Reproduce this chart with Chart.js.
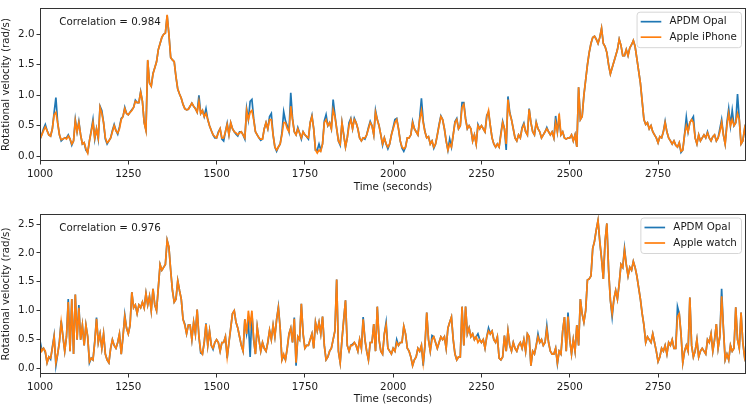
<!DOCTYPE html>
<html>
<head>
<meta charset="utf-8">
<title>Rotational velocity comparison</title>
<script src="https://cdn.jsdelivr.net/npm/chart.js@4.4.0/dist/chart.umd.min.js"></script>
<style>
  html, body { margin: 0; padding: 0; background: #fff; }
  canvas { display: block; }
</style>
</head>
<body>
<canvas id="topChart" width="747" height="203"></canvas>
<canvas id="bottomChart" width="747" height="203"></canvas>
<script>
// sample grid (seconds)
const sampleStart = 1000;
const sampleStep = 5;

// axis ticks
const xTicks = [1000, 1250, 1500, 1750, 2000, 2250, 2500, 2750];
const yTicksTop = [0, 0.5, 1, 1.5, 2];
const yTicksBottom = [0, 0.5, 1, 1.5, 2, 2.5];

// top panel: APDM Opal vs Apple iPhone (rad/s), one value per 5 s
const opalTop = [
  0.28,0.35,0.45,0.52,0.42,0.35,0.33,0.45,0.72,0.96,0.55,0.35,0.25,0.28,0.30,0.30,0.35,0.28,0.18,0.25,
  0.60,0.40,0.57,0.35,0.20,0.22,0.10,0.06,0.25,0.42,0.60,0.28,0.45,0.28,0.82,0.75,0.55,0.28,0.20,0.25,
  0.30,0.42,0.52,0.42,0.36,0.48,0.62,0.65,0.80,0.70,0.68,0.72,0.76,0.80,0.92,0.88,0.88,1.06,0.90,0.55,
  0.43,1.57,1.20,1.15,1.36,1.45,1.55,1.75,1.85,1.95,2.00,2.02,2.31,2.00,1.62,1.58,1.55,1.30,1.10,1.02,
  0.95,0.85,0.78,0.76,0.77,0.82,0.87,0.82,0.78,0.72,1.00,0.70,0.75,0.65,0.78,0.60,0.50,0.42,0.35,0.30,
  0.30,0.40,0.45,0.28,0.25,0.40,0.54,0.35,0.55,0.45,0.40,0.36,0.33,0.40,0.40,0.35,0.28,0.78,0.60,0.90,
  0.93,0.62,0.40,0.35,0.30,0.26,0.28,0.45,0.55,0.45,0.65,0.70,0.35,0.15,0.08,0.15,0.20,0.38,0.73,0.58,
  0.50,0.40,1.04,0.62,0.40,0.35,0.47,0.38,0.28,0.40,0.35,0.32,0.28,0.55,0.67,0.45,0.10,0.10,0.20,0.10,
  0.20,0.58,0.68,0.50,0.55,0.45,0.93,0.68,0.45,0.25,0.18,0.55,0.35,0.15,0.30,0.55,0.62,0.45,0.62,0.55,
  0.45,0.30,0.25,0.30,0.28,0.35,0.47,0.57,0.50,0.35,0.75,0.60,0.50,0.35,0.18,0.30,0.20,0.12,0.20,0.35,
  0.47,0.60,0.62,0.45,0.25,0.13,0.08,0.15,0.30,0.30,0.35,0.57,0.45,0.40,0.35,0.62,0.95,0.58,0.40,0.30,
  0.32,0.20,0.25,0.13,0.20,0.35,0.52,0.66,0.60,0.45,0.25,0.10,0.28,0.15,0.35,0.57,0.62,0.45,0.50,0.88,
  0.88,0.62,0.45,0.50,0.45,0.25,0.35,0.20,0.52,0.45,0.50,0.45,0.40,0.67,0.72,0.50,0.30,0.20,0.15,0.20,
  0.15,0.38,0.57,0.45,0.10,0.98,0.72,0.60,0.45,0.30,0.25,0.35,0.30,0.47,0.54,0.40,0.35,0.78,0.55,0.40,
  0.35,0.56,0.45,0.40,0.30,0.35,0.40,0.47,0.40,0.35,0.40,0.30,0.66,0.40,0.62,0.35,0.40,0.30,0.28,0.30,
  0.30,0.35,0.25,0.35,0.15,1.13,0.60,0.65,1.00,1.25,1.50,1.70,1.85,1.95,1.97,1.92,1.85,1.95,2.10,1.85,
  1.80,1.70,1.50,1.35,1.45,1.55,1.65,1.75,1.92,1.82,1.65,1.65,1.75,1.65,1.78,1.83,1.90,1.80,1.60,1.40,
  1.20,0.90,0.60,0.52,0.55,0.45,0.50,0.40,0.35,0.30,0.22,0.32,0.30,0.40,0.57,0.40,0.30,0.25,0.20,0.25,
  0.18,0.15,0.22,0.06,0.10,0.35,0.64,0.40,0.55,0.60,0.65,0.30,0.20,0.35,0.25,0.30,0.35,0.30,0.40,0.30,
  0.25,0.32,0.35,0.25,0.30,0.45,0.60,0.35,0.20,0.55,0.78,0.50,0.75,0.50,0.55,1.02,0.60,0.20,0.25,0.45,0.30
];
const iphone = [
  0.28,0.35,0.42,0.48,0.42,0.35,0.33,0.45,0.68,0.72,0.55,0.35,0.27,0.28,0.30,0.28,0.33,0.28,0.20,0.25,
  0.58,0.40,0.55,0.35,0.20,0.22,0.12,0.05,0.25,0.40,0.55,0.30,0.45,0.30,0.80,0.70,0.55,0.30,0.22,0.25,
  0.30,0.40,0.50,0.42,0.38,0.45,0.60,0.65,0.78,0.70,0.68,0.72,0.75,0.80,0.90,0.88,0.88,1.05,0.90,0.55,
  0.42,1.58,1.20,1.15,1.35,1.45,1.55,1.75,1.85,1.95,2.00,2.02,2.32,2.00,1.62,1.58,1.55,1.30,1.10,1.02,
  0.95,0.85,0.78,0.76,0.77,0.82,0.87,0.82,0.78,0.72,0.90,0.70,0.75,0.65,0.70,0.60,0.50,0.42,0.35,0.32,
  0.30,0.38,0.45,0.30,0.30,0.40,0.52,0.35,0.55,0.45,0.40,0.38,0.35,0.38,0.40,0.35,0.30,0.75,0.60,0.72,
  0.75,0.60,0.40,0.35,0.30,0.28,0.28,0.45,0.55,0.45,0.60,0.60,0.35,0.15,0.10,0.15,0.20,0.35,0.55,0.55,
  0.45,0.40,0.82,0.60,0.40,0.35,0.45,0.38,0.30,0.40,0.35,0.32,0.30,0.55,0.65,0.45,0.10,0.05,0.10,0.08,
  0.20,0.55,0.60,0.50,0.55,0.45,0.76,0.65,0.45,0.25,0.20,0.55,0.35,0.15,0.30,0.50,0.60,0.45,0.60,0.55,
  0.45,0.30,0.25,0.30,0.30,0.35,0.45,0.55,0.50,0.35,0.72,0.60,0.50,0.35,0.20,0.30,0.20,0.15,0.20,0.35,
  0.45,0.55,0.60,0.45,0.25,0.15,0.12,0.15,0.30,0.30,0.35,0.55,0.45,0.40,0.35,0.60,0.75,0.55,0.40,0.30,
  0.32,0.20,0.25,0.15,0.20,0.35,0.50,0.65,0.60,0.45,0.25,0.10,0.20,0.15,0.35,0.55,0.60,0.45,0.50,0.80,
  0.85,0.60,0.45,0.50,0.45,0.25,0.35,0.20,0.50,0.45,0.50,0.45,0.40,0.65,0.75,0.50,0.30,0.20,0.15,0.20,
  0.15,0.35,0.55,0.45,0.20,0.93,0.70,0.60,0.45,0.30,0.25,0.35,0.30,0.45,0.52,0.40,0.35,0.77,0.55,0.40,
  0.35,0.55,0.45,0.40,0.30,0.35,0.40,0.45,0.40,0.35,0.40,0.30,0.55,0.40,0.70,0.35,0.40,0.30,0.28,0.30,
  0.30,0.35,0.25,0.35,0.15,1.13,0.60,0.65,1.00,1.25,1.50,1.70,1.85,1.95,1.97,1.92,1.85,1.95,2.10,1.85,
  1.80,1.70,1.50,1.35,1.45,1.55,1.65,1.75,1.92,1.82,1.65,1.65,1.75,1.65,1.78,1.83,1.90,1.80,1.60,1.40,
  1.20,0.90,0.60,0.52,0.55,0.45,0.50,0.40,0.35,0.30,0.22,0.32,0.30,0.40,0.55,0.40,0.30,0.25,0.20,0.25,
  0.18,0.15,0.22,0.08,0.10,0.35,0.50,0.40,0.55,0.60,0.55,0.30,0.20,0.35,0.25,0.30,0.35,0.30,0.38,0.30,
  0.25,0.32,0.35,0.25,0.30,0.40,0.55,0.35,0.20,0.50,0.70,0.50,0.60,0.50,0.55,0.70,0.60,0.20,0.25,0.45,0.30
];

// bottom panel: APDM Opal vs Apple watch (rad/s), one value per 5 s
const opalBottom = [
  0.48,0.32,0.35,0.28,0.10,0.20,0.16,0.37,0.57,0.05,0.25,0.47,0.83,0.55,0.30,0.55,1.20,0.30,1.20,0.25,
  1.28,0.50,1.10,0.50,0.75,0.40,0.75,0.55,0.10,0.18,0.15,0.47,0.88,0.45,0.60,0.35,0.60,0.25,0.15,0.10,
  0.35,0.50,0.40,0.35,0.45,0.60,0.25,0.55,0.93,0.70,0.60,0.75,1.32,1.05,1.10,0.95,1.10,1.05,1.15,1.05,
  1.30,1.10,1.25,1.00,1.38,1.10,1.00,1.40,1.80,1.70,1.75,1.80,2.22,2.10,1.70,1.35,1.15,1.20,1.52,1.35,
  1.20,0.85,0.77,0.60,0.75,0.75,0.50,0.80,0.60,1.02,0.55,0.27,0.25,0.45,0.78,0.40,0.65,0.40,0.33,0.45,
  0.50,0.45,0.30,0.45,0.45,0.55,0.18,0.45,0.70,0.95,1.00,0.80,0.70,0.55,0.40,0.30,0.85,0.60,0.80,0.20,
  0.95,0.50,0.25,0.72,0.50,0.30,0.45,0.35,0.30,0.45,0.66,0.50,0.75,0.55,0.85,1.07,0.70,0.15,0.22,0.15,
  0.35,0.60,0.70,0.45,0.88,0.05,0.55,0.50,1.12,0.60,0.35,0.40,0.40,0.50,0.60,0.35,0.80,0.65,0.80,0.60,
  0.90,0.40,0.15,0.20,0.30,0.35,0.50,0.65,1.54,0.30,0.10,0.50,0.85,1.18,0.40,0.30,0.40,0.42,0.45,0.40,
  0.30,0.50,0.35,0.89,0.50,0.30,0.15,0.45,0.45,0.77,0.30,1.07,0.50,0.30,0.25,0.60,0.80,0.35,0.30,0.25,
  0.35,0.30,0.50,0.40,0.45,0.45,0.73,0.60,0.35,0.30,0.20,0.05,0.15,0.20,0.35,0.30,0.40,0.05,0.40,0.97,
  0.50,0.30,0.57,0.55,0.45,0.35,0.45,0.55,0.50,0.55,0.35,0.70,0.80,0.89,0.50,0.25,0.15,0.20,0.20,1.07,
  0.40,1.07,0.60,0.70,0.55,0.60,0.50,0.55,0.60,0.50,0.45,0.50,0.35,0.55,0.70,0.60,0.65,0.50,0.45,0.55,
  0.18,0.15,0.20,0.57,0.30,0.65,0.40,0.30,0.45,0.35,0.30,0.40,0.45,0.35,0.50,0.30,0.60,0.55,0.05,0.30,
  0.25,0.40,0.60,0.45,0.50,0.40,0.45,0.74,0.45,0.30,0.25,0.25,0.35,0.08,0.30,0.25,0.65,0.89,0.30,0.97,
  0.50,0.25,0.50,0.30,0.75,0.40,1.20,0.95,0.80,1.00,1.53,1.55,1.60,2.08,2.20,2.40,2.56,2.20,1.90,1.55,
  2.20,2.51,1.70,1.18,0.89,1.20,1.35,1.20,1.47,1.80,1.75,2.08,1.80,1.60,1.75,1.70,1.85,1.75,1.60,1.40,
  1.20,0.95,0.75,0.45,0.55,0.50,0.45,0.60,0.45,0.30,0.12,0.20,0.35,0.30,0.40,0.25,0.45,0.40,0.50,0.35,
  0.35,1.07,0.95,0.60,0.10,0.30,0.40,0.30,1.23,0.40,0.20,0.30,0.50,0.20,0.30,0.35,0.30,0.25,0.50,0.45,
  0.60,0.30,0.50,0.77,0.35,0.55,1.38,0.70,0.15,0.25,0.15,0.40,0.30,0.35,1.06,0.50,0.35,0.97,0.45,0.20,0.35
];
const watch = [
  0.40,0.30,0.35,0.30,0.10,0.20,0.18,0.35,0.55,0.10,0.25,0.45,0.80,0.55,0.30,0.55,1.15,0.30,1.20,0.25,
  1.28,0.50,1.05,0.50,0.75,0.40,0.75,0.55,0.12,0.18,0.15,0.45,0.86,0.45,0.60,0.35,0.60,0.25,0.15,0.10,
  0.35,0.50,0.40,0.35,0.45,0.60,0.25,0.55,0.90,0.70,0.60,0.75,1.32,1.05,1.10,0.95,1.10,1.05,1.15,1.05,
  1.30,1.10,1.25,1.00,1.38,1.10,1.00,1.40,1.80,1.70,1.75,1.80,2.22,2.10,1.70,1.35,1.15,1.20,1.52,1.35,
  1.20,0.85,0.75,0.60,0.75,0.75,0.50,0.80,0.60,1.02,0.55,0.30,0.25,0.45,0.77,0.40,0.65,0.40,0.35,0.45,
  0.50,0.45,0.30,0.45,0.45,0.55,0.20,0.45,0.70,0.95,1.00,0.80,0.70,0.55,0.40,0.30,0.85,0.60,1.00,0.75,
  1.00,0.50,0.25,0.72,0.50,0.30,0.45,0.35,0.30,0.45,0.66,0.50,0.75,0.55,0.85,1.05,0.70,0.15,0.25,0.15,
  0.35,0.60,0.70,0.45,0.86,0.10,0.55,0.50,1.12,0.60,0.35,0.40,0.40,0.50,0.60,0.35,0.80,0.65,0.80,0.60,
  0.90,0.40,0.15,0.20,0.30,0.35,0.50,0.65,1.54,0.30,0.10,0.50,0.85,1.18,0.40,0.30,0.40,0.40,0.45,0.40,
  0.30,0.50,0.35,0.85,0.50,0.30,0.15,0.45,0.45,0.77,0.30,1.07,0.50,0.30,0.25,0.60,0.75,0.35,0.30,0.25,
  0.35,0.30,0.45,0.40,0.45,0.45,0.73,0.60,0.35,0.30,0.20,0.05,0.15,0.20,0.35,0.30,0.40,0.10,0.40,0.97,
  0.50,0.30,0.50,0.55,0.45,0.35,0.45,0.55,0.50,0.55,0.35,0.70,0.80,0.89,0.50,0.25,0.15,0.20,0.20,1.07,
  0.40,1.07,0.60,0.70,0.55,0.60,0.50,0.55,0.45,0.50,0.45,0.50,0.35,0.55,0.65,0.60,0.65,0.50,0.45,0.55,
  0.18,0.15,0.20,0.57,0.30,0.65,0.40,0.30,0.45,0.35,0.30,0.40,0.45,0.35,0.50,0.30,0.60,0.55,0.05,0.30,
  0.25,0.40,0.55,0.45,0.50,0.40,0.45,0.68,0.45,0.30,0.25,0.25,0.35,0.10,0.30,0.25,0.65,0.89,0.30,0.90,
  0.50,0.25,0.50,0.30,0.75,0.40,1.20,0.95,0.80,1.00,1.53,1.55,1.60,2.08,2.20,2.40,2.56,2.20,1.90,1.55,
  2.20,2.51,1.70,1.18,0.95,1.20,1.35,1.20,1.47,1.80,1.75,2.05,1.80,1.60,1.75,1.70,1.85,1.75,1.60,1.40,
  1.20,0.95,0.75,0.45,0.55,0.50,0.45,0.60,0.45,0.30,0.12,0.20,0.35,0.30,0.40,0.25,0.45,0.40,0.50,0.35,
  0.35,0.90,0.95,0.60,0.10,0.30,0.40,0.30,1.23,0.40,0.20,0.30,0.50,0.20,0.30,0.35,0.30,0.25,0.50,0.45,
  0.60,0.30,0.50,0.77,0.35,0.55,1.25,0.70,0.15,0.25,0.15,0.40,0.30,0.35,1.06,0.50,0.35,0.97,0.45,0.20,0.35
];

const BLUE = '#1f77b4';
const ORANGE = '#ff7f0e';
const TEXT = '#1a1a1a';
const FONT_SIZE = 10.3;
const FONT_FAMILY = '"DejaVu Sans", "Liberation Sans", sans-serif';

Chart.defaults.font.family = FONT_FAMILY;
Chart.defaults.font.size = FONT_SIZE;
Chart.defaults.color = TEXT;

function toPoints(values) {
    return values.map((v, i) => ({ x: sampleStart + i * sampleStep, y: v }));
}

// axes box, correlation note and matplotlib-like legend
const panelDecor = {
    id: 'panelDecor',
    afterDatasetsDraw(chart, args, opts) {
        const ctx = chart.ctx;
        const a = chart.chartArea;
        ctx.save();

        // full frame round the plot area
        ctx.strokeStyle = '#333';
        ctx.lineWidth = 1;
        ctx.strokeRect(Math.round(a.left) + 0.5, Math.round(a.top) + 0.5,
            Math.round(a.width) - 1, Math.round(a.height) - 1);

        ctx.font = FONT_SIZE + 'px ' + FONT_FAMILY;
        ctx.fillStyle = TEXT;
        ctx.textBaseline = 'middle';
        ctx.textAlign = 'left';
        ctx.fillText(opts.note, a.left + 19.3, a.top + 14.5);

        // legend
        const sets = chart.data.datasets;
        const textW = Math.max(...sets.map(d => ctx.measureText(d.label).width));
        const pad = 0.4 * FONT_SIZE, handle = 2 * FONT_SIZE, gap = 0.8 * FONT_SIZE;
        const w = pad + handle + gap + textW + pad;
        const h = 35.5;
        const x = a.right - 5 - w;
        const y = a.top + 3.5;

        ctx.beginPath();
        ctx.roundRect(x + 0.5, y + 0.5, w, h, 3);
        ctx.fillStyle = 'rgba(255,255,255,0.8)';
        ctx.fill();
        ctx.strokeStyle = '#d6d6d6';
        ctx.stroke();

        sets.forEach((d, i) => {
            const ry = y + 10 + i * 15.5;
            ctx.beginPath();
            ctx.moveTo(x + pad, ry);
            ctx.lineTo(x + pad + handle, ry);
            ctx.strokeStyle = d.borderColor;
            ctx.lineWidth = 1.7;
            ctx.stroke();
            ctx.fillStyle = TEXT;
            ctx.fillText(d.label, x + pad + handle + gap, ry);
        });

        ctx.restore();
    }
};

function makePanel(canvasId, opalValues, deviceValues, deviceName, note, yMin, yMax, yTicks, padTop, xAxisHeight, titlePadBottom) {
    const ctx = document.getElementById(canvasId).getContext('2d');
    return new Chart(ctx, {
        type: 'line',
        data: {
            datasets: [{
                label: 'APDM Opal',
                data: toPoints(opalValues),
                borderColor: BLUE,
                borderWidth: 1.7,
                pointRadius: 0,
                tension: 0,
                order: 1
            }, {
                label: deviceName,
                data: toPoints(deviceValues),
                borderColor: ORANGE,
                borderWidth: 1.7,
                pointRadius: 0,
                tension: 0,
                order: 0
            }]
        },
        options: {
            responsive: false,
            animation: false,
            events: [],
            layout: { padding: { top: padTop, right: 1, left: 0, bottom: 0 } },
            plugins: {
                legend: { display: false },
                tooltip: { enabled: false },
                panelDecor: { note: note }
            },
            scales: {
                x: {
                    type: 'linear',
                    min: 1000,
                    max: 2999,
                    afterBuildTicks: s => { s.ticks = xTicks.map(v => ({ value: v })); },
                    afterFit: s => { s.height = xAxisHeight; },
                    ticks: { callback: v => String(v), padding: 4, maxRotation: 0, autoSkip: false },
                    grid: { drawOnChartArea: false, tickLength: 3.5, color: '#333' },
                    border: { display: false },
                    title: { display: true, text: 'Time (seconds)', padding: { top: 0, bottom: titlePadBottom } }
                },
                y: {
                    min: yMin,
                    max: yMax,
                    afterBuildTicks: s => { s.ticks = yTicks.map(v => ({ value: v })); },
                    afterFit: s => { s.width = 40; },
                    ticks: { callback: v => v.toFixed(1), padding: 2 },
                    grid: { drawOnChartArea: false, tickLength: 3.5, color: '#333' },
                    border: { display: false },
                    title: { display: true, text: 'Rotational velocity (rad/s)', padding: { top: 0, bottom: 0 } }
                }
            }
        },
        plugins: [panelDecor]
    });
}

makePanel('topChart', opalTop, iphone, 'Apple iPhone', 'Correlation = 0.984',
    -0.08, 2.43, yTicksTop, 2, 42, 9);
makePanel('bottomChart', opalBottom, watch, 'Apple watch', 'Correlation = 0.976',
    -0.095, 2.673, yTicksBottom, 11, 32, 0);
</script>
</body>
</html>
